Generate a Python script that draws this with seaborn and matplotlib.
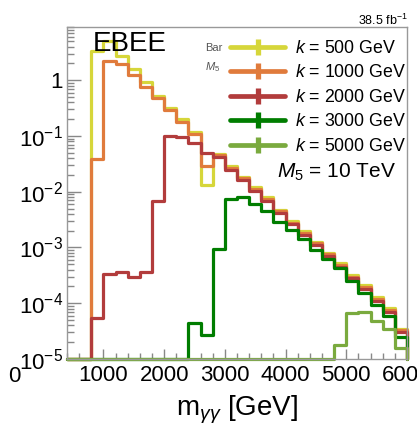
import numpy as np
import matplotlib
matplotlib.use("Agg")
import matplotlib.pyplot as plt
from matplotlib.lines import Line2D
from matplotlib.ticker import FixedLocator, MultipleLocator, LogLocator, NullFormatter
import seaborn as sns

# bin lower edges 400, 600, ..., 5800 (200 GeV bins)
bin_edges = np.arange(400, 6001, 200)

k500 = [0, 0, 3.37, 4.97, 2.74, 1.58, 0.93, 0.52, 0.32, 0.20, 0.12, 0.013,
        0.048, 0.029, 0.0185, 0.012, 0.0079, 0.0047, 0.0030, 0.00195, 0.00126,
        0.00079, 0.00052, 0.00032, 0.00021, 0.000127, 0.000082, 0.000035]
k1000 = [0, 0, 0.039, 2.2, 1.94, 1.23, 0.77, 0.47, 0.29, 0.178, 0.11, 0.029,
         0.046, 0.027, 0.0175, 0.0114, 0.0075, 0.0045, 0.0028, 0.00185, 0.0012,
         0.00075, 0.00049, 0.00030, 0.000195, 0.000120, 0.000077, 0.000033]
k2000 = [0, 0, 5.4e-5, 3.4e-4, 3.6e-4, 2.95e-4, 3.6e-4, 0.0069, 0.10, 0.097, 0.075, 0.050,
         0.042, 0.025, 0.016, 0.0105, 0.0069, 0.0041, 0.0026, 0.0017, 0.0011,
         0.00069, 0.00045, 0.00028, 0.00018, 0.00011, 0.000071, 0.000030]
k3000 = [0, 0, 0, 0, 0, 0, 0, 0, 0, 0, 4.5e-5, 2.7e-5,
         9.4e-4, 0.0074, 0.0079, 0.0060, 0.0046, 0.0029, 0.0021, 0.0014, 0.00091,
         0.00062, 0.00042, 0.00025, 0.00015, 9.4e-5, 5.9e-5, 2.5e-5]
k5000 = [0, 0, 0, 0, 0, 0, 0, 0, 0, 0, 0, 0,
         0, 0, 0, 0, 0, 0, 0, 0, 0,
         0, 1.8e-5, 6.6e-5, 6.9e-5, 4.9e-5, 3.4e-5, 1.55e-5]

series = [k500, k1000, k2000, k3000, k5000]
labels = ["$k$ = 500 GeV", "$k$ = 1000 GeV", "$k$ = 2000 GeV", "$k$ = 3000 GeV", "$k$ = 5000 GeV"]
colors = ["#d6d63a", "#e07b3c", "#b23c3c", "#007d00", "#7aaa3e"]

x_ticks = [1000, 2000, 3000, 4000, 5000, 6000]
ymin, ymax = 1e-5, 9.0

sns.set_theme(style="white")
plt.rcParams["font.family"] = ["Liberation Sans", "DejaVu Sans"]
plt.rcParams["mathtext.fontset"] = "custom"
plt.rcParams["mathtext.rm"] = "Liberation Sans"
plt.rcParams["mathtext.it"] = "Liberation Sans:italic"
plt.rcParams["mathtext.bf"] = "Liberation Sans:bold"
plt.rcParams["text.color"] = "black"
plt.rcParams["axes.labelcolor"] = "black"
plt.rcParams["xtick.labelcolor"] = "black"
plt.rcParams["ytick.labelcolor"] = "black"

fig = plt.figure(figsize=(4.17, 4.34), dpi=100)
ax = fig.add_axes([67 / 417, 1 - 359 / 434, 340 / 417, 332 / 434])

for vals, col in zip(series, colors):
    v = np.array(vals, dtype=float)
    v = np.where(v > 0, v, ymin)  # empty bins sit on the floor like ROOT
    xs = np.append(bin_edges, bin_edges[-1])
    ys = np.append(v, [v[-1], ymin])
    sns.lineplot(x=xs, y=ys, ax=ax, color=col, lw=2.3, drawstyle="steps-post",
                 estimator=None, sort=False, clip_on=False)

ax.set_yscale("log")
ax.set_xlim(400, 6000)
ax.set_ylim(ymin, ymax)

ax.xaxis.set_major_locator(FixedLocator(x_ticks))
ax.xaxis.set_minor_locator(MultipleLocator(200))
ax.set_xticklabels([str(t) for t in x_ticks])
ax.yaxis.set_major_locator(FixedLocator([1e-5, 1e-4, 1e-3, 1e-2, 1e-1, 1]))
ax.set_yticklabels(["$10^{-5}$", "$10^{-4}$", "$10^{-3}$", "$10^{-2}$", "$10^{-1}$", "1"])
ax.yaxis.set_minor_locator(LogLocator(base=10, subs=np.arange(2, 10), numticks=20))
ax.yaxis.set_minor_formatter(NullFormatter())

ax.tick_params(axis="both", which="both", direction="in", color="#888888",
               labelsize=16, labelcolor="black", bottom=True, left=True, top=False, right=False)
ax.tick_params(axis="x", which="major", length=7, width=1, pad=4)
ax.tick_params(axis="x", which="minor", length=4, width=1)
ax.tick_params(axis="y", which="major", length=10, width=1, pad=3)
ax.tick_params(axis="y", which="minor", length=5, width=1)
for s in ax.spines.values():
    s.set_color("#999999")
    s.set_linewidth(1)

ax.set_xlabel(r"m$_{\gamma\gamma}$ [GeV]", fontsize=20, labelpad=6, color="black")
ax.set_ylabel("")

handles = [Line2D([0], [0], color=c, lw=3.4, marker="|", markersize=12, markeredgewidth=3.8)
           for c in colors]
fig.legend(handles, labels, loc="upper left", bbox_to_anchor=(230 / 417, 1 - 40 / 434),
           bbox_transform=fig.transFigure, frameon=False, fontsize=12.8,
           handlelength=3.1, handletextpad=0.55, labelspacing=0.42, borderpad=0,
           borderaxespad=0, labelcolor="black")

fig.text(93 / 417, 1 - 51 / 434, "EBEE", fontsize=20, va="baseline", ha="left", color="black")
fig.text(205 / 417, 1 - 48 / 434, "Bar", fontsize=8, va="center", ha="left", color="#555555")
fig.text(205 / 417, 1 - 67 / 434, "$M_5$", fontsize=8, va="center", ha="left", color="#555555")
fig.text(396 / 417, 1 - 172 / 434, "$M_5$ = 10 TeV", fontsize=15, va="center", ha="right")
fig.text(408 / 417, 1 - 20 / 434, "38.5 fb$^{-1}$", fontsize=9, va="center", ha="right")
fig.text(8 / 417, 1 - 377 / 434, "0", fontsize=16, va="center", ha="left")

fig.savefig("out.png", dpi=100, facecolor="white")
